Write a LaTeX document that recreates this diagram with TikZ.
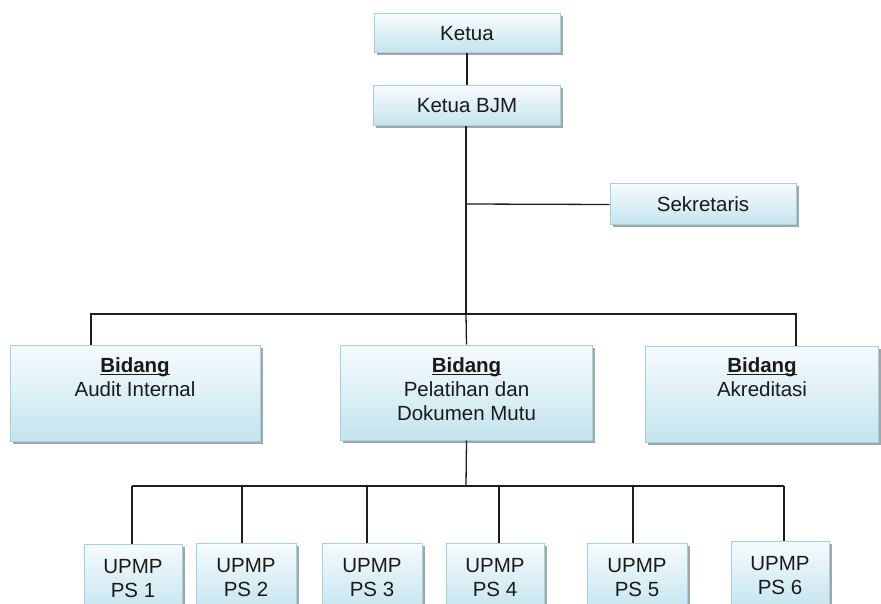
\documentclass[tikz,border=0pt]{standalone}
\usepackage{fontspec}
\setmainfont{Liberation Sans}
\usetikzlibrary{shadows}
\definecolor{boxtop}{HTML}{F6FBFD}
\definecolor{boxbot}{HTML}{C4E4EE}
\definecolor{boxline}{HTML}{9FD2E2}
\definecolor{conn}{HTML}{1E1E1E}
\definecolor{txt}{HTML}{1A1A1A}
\newcommand\myul[1]{\setbox0\hbox{#1}\rlap{\rule[-2.6pt]{\wd0}{1.1pt}}\box0}
\tikzset{
  orgbox/.style={rectangle, draw=boxline, line width=1pt, top color=boxtop, bottom color=boxbot,
    inner sep=0pt, align=center, font=\fontsize{20.5}{24}\selectfont, text=txt,
    drop shadow={shadow xshift=2.5pt, shadow yshift=-2.5pt, fill=black!50, opacity=0.7}},
  link/.style={draw=conn, line width=1.3pt},
  toptext/.style={anchor=north, align=center, font=\fontsize{20.5}{24}\selectfont, text=txt, inner sep=0pt}
}
\begin{document}
\begin{tikzpicture}[x=1pt,y=-1pt]
\clip (0,0) rectangle (881,604);
\fill[white] (0,0) rectangle (881,604);
% top boxes
\node[orgbox, minimum width=186pt, minimum height=39pt] (ketua) at (467,33.5) {Ketua};
\node[orgbox, minimum width=187pt, minimum height=40pt] (bjm) at (467,106) {Ketua BJM};
\node[orgbox, minimum width=186pt, minimum height=41pt] (sek) at (703,204.5) {Sekretaris};
% bidang boxes
\node[orgbox, minimum width=250pt, minimum height=96pt] (audit) at (135,393.5) {};
\node[toptext] at ([yshift=-12pt]audit.north) {\myul{\textbf{Bidang}}\\Audit Internal};
\node[orgbox, minimum width=252pt, minimum height=95pt] (pel) at (466.5,392.5) {};
\node[toptext] at ([yshift=-12.5pt]pel.north) {\myul{\textbf{Bidang}}\\Pelatihan dan\\Dokumen Mutu};
\node[orgbox, minimum width=233pt, minimum height=96pt] (akr) at (762,394) {};
\node[toptext] at ([yshift=-11.5pt]akr.north) {\myul{\textbf{Bidang}}\\Akreditasi};
% UPMP boxes
\node[orgbox, minimum width=98pt, minimum height=70pt] (u1) at (133,579) {UPMP\\PS 1};
\node[orgbox, minimum width=100pt, minimum height=70pt] (u2) at (246,578) {UPMP\\PS 2};
\node[orgbox, minimum width=100pt, minimum height=70pt] (u3) at (372,578) {UPMP\\PS 3};
\node[orgbox, minimum width=98pt, minimum height=70pt] (u4) at (495,578) {UPMP\\PS 4};
\node[orgbox, minimum width=100pt, minimum height=70pt] (u5) at (637,578) {UPMP\\PS 5};
\node[orgbox, minimum width=98pt, minimum height=70pt] (u6) at (780,576) {UPMP\\PS 6};
% junction coordinates
\coordinate (sekj) at (466,204);
\coordinate (busa) at (466,314);
\coordinate (ba) at (91,314);
\coordinate (bk) at (796,314);
\coordinate (busb) at (466,486);
\coordinate (b1) at (132,486);
\coordinate (b2) at (242,486);
\coordinate (b3) at (367,486);
\coordinate (b4) at (499,486);
\coordinate (b5) at (633,486);
\coordinate (b6) at (784,486);
% connectors
\draw[link] (ketua.south) -- (bjm.north);
\draw[link] (bjm.south -| busa) -- (busa);
\draw[link] (sekj) -- (sek.west);
\draw[link] (ba |- audit.north) -- (ba) -- (bk) -- (bk |- akr.north);
\draw[link] (busa) -- (pel.north);
\draw[link] (pel.south) -- (busb);
\draw[link] (b1) -- (b6);
\draw[link] (b1) -- (b1 |- u1.north);
\draw[link] (b2) -- (b2 |- u2.north);
\draw[link] (b3) -- (b3 |- u3.north);
\draw[link] (b4) -- (b4 |- u4.north);
\draw[link] (b5) -- (b5 |- u5.north);
\draw[link] (b6) -- (b6 |- u6.north);
\end{tikzpicture}
\end{document}
